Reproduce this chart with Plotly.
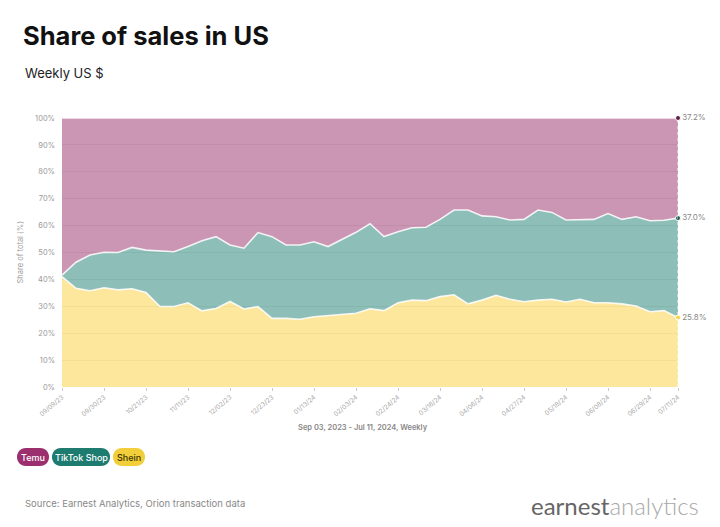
import plotly.graph_objects as go
import pandas as pd

# ---------------- data ----------------
week_dates = list(pd.date_range("2023-09-09", periods=44, freq="7D").strftime("%m/%d/%y")) + ["07/11/24"]

shein = [41.0, 36.7, 35.8, 36.9, 36.1, 36.5, 35.1, 29.9, 29.9, 31.3, 28.3, 29.2, 31.8, 29.0, 29.9,
         25.5, 25.5, 25.2, 26.1, 26.5, 26.9, 27.4, 29.1, 28.4, 31.3, 32.3, 32.1, 33.6, 34.3, 30.9,
         32.3, 34.1, 32.6, 31.7, 32.3, 32.6, 31.6, 32.6, 31.3, 31.3, 30.9, 30.1, 28.0, 28.4, 25.8]
tiktok = [0.6, 9.7, 13.3, 13.2, 13.9, 15.4, 15.8, 20.7, 20.4, 20.9, 26.1, 26.7, 21.0, 22.6, 27.5,
          30.4, 27.3, 27.6, 27.9, 25.7, 28.0, 30.1, 31.6, 27.5, 26.4, 26.9, 27.3, 28.7, 31.5, 34.9,
          31.3, 29.2, 29.5, 30.6, 33.5, 32.3, 30.5, 29.5, 31.0, 33.2, 31.4, 33.2, 33.8, 33.6, 37.0]
temu = [58.4, 53.6, 50.9, 49.9, 50.0, 48.1, 49.1, 49.4, 49.7, 47.8, 45.6, 44.1, 47.2, 48.4, 42.6,
        44.1, 47.2, 47.2, 46.0, 47.8, 45.1, 42.5, 39.3, 44.1, 42.3, 40.8, 40.6, 37.7, 34.2, 34.2,
        36.4, 36.7, 37.9, 37.7, 34.2, 35.1, 37.9, 37.9, 37.7, 35.5, 37.7, 36.7, 38.2, 38.0, 37.2]

tick_labels = ["09/09/23", "09/30/23", "10/21/23", "11/11/23", "12/02/23", "12/23/23", "01/13/24",
               "02/03/24", "02/24/24", "03/16/24", "04/06/24", "04/27/24", "05/18/24", "06/08/24",
               "06/29/24", "07/11/24"]

series_names = ["Shein", "TikTok Shop", "Temu"]
series_values = [shein, tiktok, temu]
base_colors = {"Shein": (251, 208, 58), "TikTok Shop": (30, 125, 114), "Temu": (152, 44, 106)}
dot_colors = {"Shein": "#f2d44a", "TikTok Shop": "#1d5a52", "Temu": "#5a1f40"}

# --------------- figure ---------------
fig = go.Figure()
for name, vals in zip(series_names, series_values):
    r, g, b = base_colors[name]
    fig.add_trace(go.Scatter(
        x=week_dates, y=vals, name=name, mode="lines", stackgroup="one",
        line=dict(color="rgba(255,255,255,0.85)", width=1.6, shape="linear"),
        fillcolor=f"rgba({r},{g},{b},0.5)", hoverinfo="skip", showlegend=False,
    ))

# end markers with labels
cum = 0
end_y, end_txt, end_col = [], [], []
for name, vals in zip(series_names, series_values):
    cum += vals[-1]
    end_y.append(cum)
    end_txt.append(f"{vals[-1]:.1f}%")
    end_col.append(dot_colors[name])
fig.add_trace(go.Scatter(
    x=[week_dates[-1]] * 3, y=end_y, mode="markers+text", text=end_txt,
    textposition="middle right", textfont=dict(size=8, color="#888", family="Inter"),
    marker=dict(size=5, color=end_col, line=dict(color="white", width=1)),
    cliponaxis=False, showlegend=False, hoverinfo="skip",
))

L, R, T, B = 62, 42, 118, 140
W, H = 720, 527
pw, ph = W - L - R, H - T - B
def px(x):
    return (x - L) / pw
def py(y):
    return (T + ph - y) / ph

fig.update_layout(
    width=W, height=H, margin=dict(l=L, r=R, t=T, b=B),
    paper_bgcolor="white", plot_bgcolor="white",
    font=dict(family="Inter", color="#888"),
    xaxis=dict(
        type="category", range=[0, len(week_dates) - 1],
        tickmode="array", tickvals=tick_labels, ticktext=tick_labels,
        tickangle=-40, tickfont=dict(size=6.5, color="#aaa"),
        ticks="outside", ticklen=3, tickcolor="#ccc",
        showgrid=False, showline=False, zeroline=False,
    ),
    yaxis=dict(
        range=[0, 100], dtick=10, ticksuffix="%",
        tickfont=dict(size=7.5, color="#999"), ticklabelstandoff=6,
        showgrid=True, gridcolor="#ececec", gridwidth=1,
        zeroline=False, showline=False, ticks="",
    ),
    hovermode=False,
)

# dotted vertical line at the end
fig.add_shape(type="line", xref="x", yref="y", x0=week_dates[-1], x1=week_dates[-1], y0=0, y1=100,
              line=dict(color="rgba(255,255,255,0.9)", width=1, dash="dot"), layer="above")

ann = []
ann.append(dict(text="<b>Share of sales in US</b>", x=px(21), y=py(35), xref="paper", yref="paper",
                xanchor="left", yanchor="middle", showarrow=False,
                font=dict(size=25.5, color="#111", family="Inter")))
ann.append(dict(text="Weekly US $", x=px(23), y=py(73), xref="paper", yref="paper",
                xanchor="left", yanchor="middle", showarrow=False,
                font=dict(size=13, color="#222", family="Inter")))
ann.append(dict(text="Share of total (%)", x=px(20), y=0.5, xref="paper", yref="paper",
                xanchor="center", yanchor="middle", textangle=-90, showarrow=False,
                font=dict(size=7.5, color="#999", family="Inter")))
ann.append(dict(text="Sep 03, 2023 - Jul 11, 2024, Weekly", x=px(363), y=py(427), xref="paper", yref="paper",
                xanchor="center", yanchor="middle", showarrow=False,
                font=dict(size=7.5, color="#888", family="Inter", weight=600)))
ann.append(dict(text="Source: Earnest Analytics, Orion transaction data", x=px(23), y=py(503),
                xref="paper", yref="paper", xanchor="left", yanchor="middle", showarrow=False,
                font=dict(size=9.5, color="#888", family="Inter")))
ann.append(dict(text="<span style='color:#666666'>earnest</span><span style='color:#a8a8a8;font-weight:300'>analytics</span>",
                x=px(701), y=py(505), xref="paper", yref="paper", xanchor="right", yanchor="middle",
                showarrow=False, font=dict(size=24, family="Lato", color="#777")))

# legend pills
pills = [("Temu", 33, 32, "#9c2f6e", "white"),
         ("TikTok Shop", 81, 58, "#1e7b70", "white"),
         ("Shein", 129, 32, "#f2cf3a", "#3a3200")]
for label, cx, w, bg, fg in pills:
    h = 18
    r = h / 2
    a = w / 2 - r
    k = 4 / 3 * r
    path = (f"M {-a},{-r} L {a},{-r} C {a + k},{-r} {a + k},{r} {a},{r} "
            f"L {-a},{r} C {-a - k},{r} {-a - k},{-r} {-a},{-r} Z")
    fig.add_shape(type="path", xref="paper", yref="paper", xsizemode="pixel", ysizemode="pixel",
                  xanchor=px(cx), yanchor=py(457), path=path, fillcolor=bg,
                  line=dict(width=0), layer="above")
    ann.append(dict(text=label, x=px(cx), y=py(457), xref="paper", yref="paper",
                    xanchor="center", yanchor="middle", showarrow=False,
                    font=dict(size=9, color=fg, family="Inter", weight=500)))

fig.update_layout(annotations=ann)
fig.write_html("out.html")
